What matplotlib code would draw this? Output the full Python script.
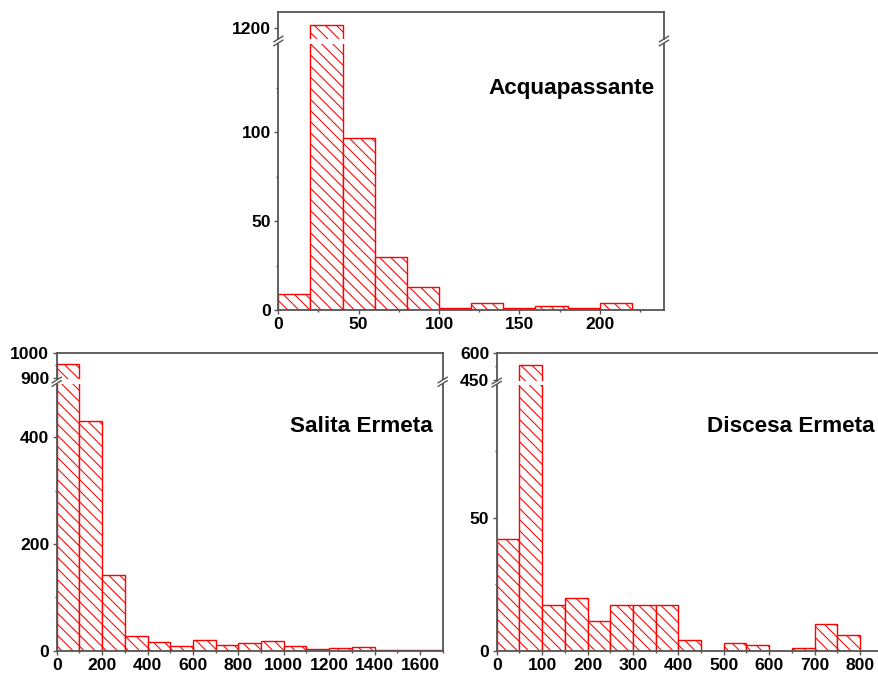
import matplotlib
matplotlib.use("Agg")
import matplotlib.pyplot as plt
from matplotlib.lines import Line2D
from matplotlib.ticker import MultipleLocator, FixedLocator


W, H = 879, 675
DPI = 100
AXIS_COLOR = "#555555"
BAR_COLOR = "red"

# Acquapassante: 20-wide bins
acqua_left = [0, 20, 40, 60, 80, 100, 120, 140, 160, 180, 200]
acqua_count = [9, 1213, 97, 30, 13, 1, 4, 1, 2, 1, 4]

# Salita Ermeta: 100-wide bins
salita_left = [0, 100, 200, 300, 400, 500, 600, 700, 800, 900, 1000,
               1100, 1200, 1300, 1400, 1500, 1600]
salita_count = [955, 430, 142, 28, 16, 9, 20, 11, 14, 18, 9, 3, 5, 6, 2, 1, 2]

# Discesa Ermeta: 50-wide bins
discesa_left = [0, 50, 100, 150, 200, 250, 300, 350, 400, 450, 500, 550,
                600, 650, 700, 750]
discesa_count = [42, 530, 17, 20, 11, 17, 17, 17, 4, 0, 3, 2, 0, 1, 10, 6]

plt.rcParams["font.family"] = ["Liberation Sans", "DejaVu Sans"]
plt.rcParams["font.weight"] = "bold"
plt.rcParams["hatch.linewidth"] = 0.75

fig = plt.figure(figsize=(W / DPI, H / DPI), dpi=DPI)


def box(l, t, r, b):
    # pixel box (top-down) -> figure fraction
    return [l / W, 1 - b / H, (r - l) / W, (b - t) / H]


def style(ax):
    for s in ax.spines.values():
        s.set_color(AXIS_COLOR)
        s.set_linewidth(1.3)
    ax.tick_params(which="both", direction="out", color=AXIS_COLOR,
                   labelsize=12.6, right=False, top=False, width=1.0)
    ax.tick_params(which="major", length=2.9, pad=2.4)
    ax.tick_params(which="minor", length=1.6)


def break_mark(x, y):
    if x > W:
        return
    d = 4.5
    line = Line2D([(x - d) / W, (x + d) / W], [1 - (y + 2.8) / H, 1 - (y - 2.8) / H],
                  transform=fig.transFigure, color=AXIS_COLOR, lw=1.0)
    fig.add_artist(line)


def panel(px, upper_y, lower_y, upper_lim, lower_lim, left, count, width,
          xlim, xticks, xminor, upper_ticks, upper_minor, lower_ticks, lower_minor,
          title, title_xy):
    l, r = px
    up = fig.add_axes(box(l, upper_y[0], r, upper_y[1]))
    lo = fig.add_axes(box(l, lower_y[0], r, lower_y[1]))
    for ax in (up, lo):
        ax.bar(left, count, width=width, align="edge", facecolor="white",
               edgecolor=BAR_COLOR, hatch="\\\\\\", linewidth=1.0)
        ax.set_xlim(*xlim)
        style(ax)
    up.set_ylim(*upper_lim)
    lo.set_ylim(*lower_lim)
    up.spines["bottom"].set_visible(False)
    lo.spines["top"].set_visible(False)
    up.tick_params(axis="x", which="both", bottom=False, labelbottom=False)
    up.yaxis.set_major_locator(FixedLocator(upper_ticks))
    up.yaxis.set_minor_locator(FixedLocator(upper_minor))
    lo.yaxis.set_major_locator(FixedLocator(lower_ticks))
    lo.yaxis.set_minor_locator(FixedLocator(lower_minor))
    lo.xaxis.set_major_locator(FixedLocator(xticks))
    lo.xaxis.set_minor_locator(MultipleLocator(xminor))
    for x in (l, r):
        break_mark(x, upper_y[1] + 0.5)
        break_mark(x, lower_y[0] - 0.5)
    fig.text(title_xy[0] / W, 1 - title_xy[1] / H, title, ha="right",
             va="baseline", fontsize=16.2, fontweight="bold")


panel((278.3, 664), (12.3, 38.5), (43.5, 310), (1160, 1260), (0, 150),
      acqua_left, acqua_count, 20, (0, 240), [0, 50, 100, 150, 200], 25,
      [1200], [], [0, 50, 100], [25, 75, 125],
      "Acquapassante", (655, 94))

panel((56.7, 442.7), (352.8, 379.5), (384, 650.7), (894, 1000), (0, 500),
      salita_left, salita_count, 100, (0, 1700),
      [0, 200, 400, 600, 800, 1000, 1200, 1400, 1600], 100,
      [900, 1000], [950], [0, 200, 400], [100, 300],
      "Salita Ermeta", (433, 431.5))

panel((496.7, 882.7), (352.8, 380.5), (384.7, 650.7), (447, 600), (0, 100),
      discesa_left, discesa_count, 50, (0, 850),
      [0, 100, 200, 300, 400, 500, 600, 700, 800], 50,
      [450, 600], [525], [0, 50], [25, 75],
      "Discesa Ermeta", (875, 432))

fig.savefig("out.png", dpi=DPI)
